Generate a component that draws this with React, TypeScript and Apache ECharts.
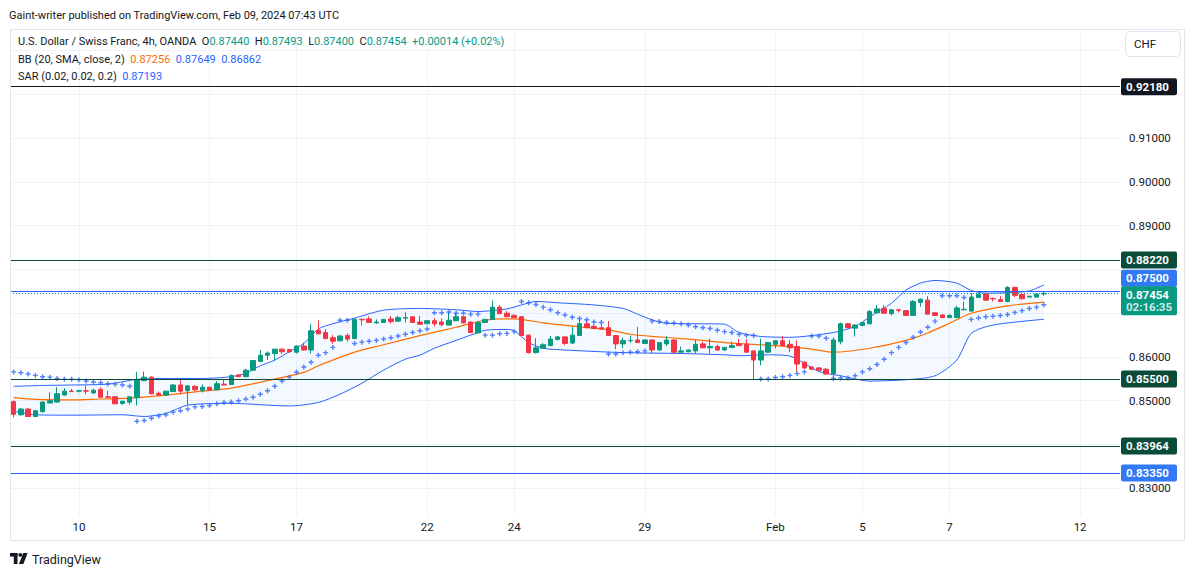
import React, { useEffect, useRef } from 'react';
import * as echarts from 'echarts';

const FONT = 'Roboto, "Liberation Sans", sans-serif';
const UP = '#089981';
const DOWN = '#f23645';
const BLUE = '#2962ff';
const TAG_BLUE = '#3179f5';
const INK = '#131722';
const DARK_GREEN = '#0b4b3a';
const GRID = '#f0f3fa';

// 4h bars, USDCHF (OANDA)
const openP = [
  .8498, .8468, .8481, .8464, .8475, .8495, .8497, .8513, .8522, .8522,
  .8523, .8518, .8526, .8509, .8509, .8494, .8497, .8507, .8546, .8554,
  .8517, .8513, .8521, .8536, .8523, .8533, .8524, .8531, .8525, .8538,
  .8537, .8559, .8555, .8570, .8590, .8604, .8608, .8618, .8617, .8611,
  .8625, .8616, .8661, .8656, .8644, .8637, .8649, .8642, .8686, .8687,
  .8678, .8679, .8687, .8682, .8689, .8692, .8680, .8676, .8683, .8680,
  .8673, .8683, .8692, .8680, .8655, .8679, .8686, .8714, .8700, .8695,
  .8692, .8650, .8610, .8620, .8626, .8640, .8646, .8632, .8649, .8676,
  .8670, .8667, .8667, .8649, .8630, .8637, .8639, .8631, .8639, .8616,
  .8630, .8639, .8611, .8612, .8614, .8630, .8621, .8624, .8616, .8622,
  .8630, .8629, .8614, .8593, .8611, .8629, .8637, .8629, .8624, .8588,
  .8577, .8575, .8572, .8562, .8635, .8676, .8666, .8672, .8676, .8701,
  .8711, .8699, .8708, .8706, .8695, .8725, .8730, .8701, .8696, .8690,
  .8690, .8708, .8705, .8736, .8744, .8734, .8731, .8727, .8759, .8743,
  .8737, .8737, .87440,
];
const highP = [
  .8501, .8484, .8484, .8478, .8498, .8519, .8531, .8529, .8527, .8525,
  .8535, .8528, .8531, .8523, .8510, .8500, .8511, .8566, .8567, .8556,
  .8521, .8523, .8538, .8549, .8536, .8535, .8537, .8532, .8545, .8548,
  .8560, .8560, .8573, .8593, .8616, .8613, .8619, .8619, .8619, .8626,
  .8633, .8675, .8684, .8664, .8650, .8650, .8654, .8689, .8688, .8693,
  .8686, .8687, .8694, .8694, .8702, .8693, .8694, .8684, .8689, .8688,
  .8702, .8701, .8693, .8681, .8682, .8687, .8729, .8719, .8705, .8698,
  .8694, .8651, .8643, .8632, .8648, .8648, .8647, .8669, .8686, .8685,
  .8675, .8674, .8682, .8650, .8644, .8649, .8669, .8640, .8640, .8634,
  .8648, .8640, .8624, .8617, .8639, .8635, .8642, .8628, .8623, .8635,
  .8641, .8641, .8615, .8642, .8634, .8638, .8648, .8639, .8638, .8591,
  .8579, .8577, .8575, .8645, .8679, .8678, .8675, .8680, .8708, .8719,
  .8719, .8709, .8708, .8707, .8730, .8734, .8739, .8702, .8698, .8698,
  .8717, .8727, .8746, .8747, .8747, .8736, .8739, .8762, .8761, .8746,
  .8740, .8745, .87493,
];
const lowP = [
  .8462, .8466, .8463, .8463, .8473, .8494, .8496, .8512, .8520, .8519,
  .8515, .8515, .8507, .8507, .8492, .8491, .8491, .8489, .8545, .8515,
  .8511, .8512, .8520, .8515, .8490, .8522, .8519, .8523, .8524, .8535,
  .8536, .8554, .8554, .8569, .8588, .8593, .8592, .8607, .8610, .8608,
  .8615, .8608, .8652, .8641, .8630, .8636, .8635, .8641, .8672, .8678,
  .8676, .8678, .8676, .8681, .8679, .8678, .8674, .8675, .8670, .8670,
  .8672, .8682, .8677, .8655, .8654, .8678, .8685, .8698, .8691, .8689,
  .8648, .8608, .8608, .8619, .8625, .8638, .8627, .8630, .8648, .8666,
  .8664, .8663, .8648, .8618, .8620, .8633, .8632, .8630, .8608, .8615,
  .8625, .8610, .8611, .8611, .8608, .8620, .8608, .8615, .8615, .8621,
  .8625, .8610, .8549, .8581, .8610, .8620, .8625, .8611, .8566, .8573,
  .8570, .8568, .8559, .8550, .8629, .8666, .8647, .8671, .8675, .8700,
  .8699, .8695, .8702, .8694, .8694, .8715, .8697, .8694, .8689, .8689,
  .8689, .8707, .8704, .8735, .8729, .8727, .8726, .8725, .8737, .8732,
  .8736, .8736, .87400,
];
const closeP = [
  .8469, .8481, .8464, .8477, .8497, .8500, .8516, .8522, .8521, .8523,
  .8522, .8524, .8508, .8508, .8493, .8499, .8509, .8548, .8554, .8516,
  .8513, .8522, .8536, .8522, .8534, .8525, .8531, .8524, .8539, .8536,
  .8558, .8555, .8570, .8592, .8604, .8609, .8618, .8612, .8612, .8625,
  .8616, .8660, .8653, .8642, .8636, .8648, .8641, .8686, .8685, .8679,
  .8680, .8686, .8681, .8690, .8690, .8679, .8675, .8683, .8676, .8674,
  .8684, .8692, .8678, .8656, .8679, .8686, .8714, .8699, .8692, .8690,
  .8649, .8610, .8621, .8628, .8641, .8646, .8631, .8650, .8676, .8667,
  .8665, .8664, .8649, .8630, .8638, .8638, .8633, .8639, .8616, .8633,
  .8639, .8611, .8614, .8616, .8629, .8621, .8624, .8616, .8622, .8626,
  .8626, .8611, .8593, .8614, .8633, .8637, .8626, .8621, .8584, .8575,
  .8572, .8570, .8561, .8639, .8676, .8667, .8673, .8679, .8704, .8710,
  .8700, .8708, .8707, .8695, .8727, .8732, .8698, .8695, .8690, .8695,
  .8712, .8709, .8737, .8743, .8730, .8733, .8727, .8759, .8741, .8733,
  .8739, .8744, .87454,
];

// Parabolic SAR (0.02, 0.02, 0.2), one dot per bar
const sarP = [
  .8566, .8564, .8561, .8558, .8555, .8554, .8551, .8549, .8549, .8548,
  .8545, .8543, .8541, .8539, .8538, .8536, .8533, .8453, .8455, .8460,
  .8465, .8468, .8474, .8477, .8481, .8486, .8487, .8489, .8493, .8496,
  .8497, .8500, .8504, .8508, .8515, .8523, .8533, .8545, .8554, .8565,
  .8577, .8588, .8604, .8610, .8622, .8684, .8684, .8631, .8634, .8636,
  .8638, .8641, .8644, .8648, .8652, .8656, .8660, .8664, .8701, .8701,
  .8703, .8700, .8700, .8698, .8698, .8650, .8650, .8653, .8654, .8658,
  .8727, .8724, .8720, .8714, .8708, .8701, .8696, .8691, .8688, .8685,
  .8680, .8679, .8607, .8607, .8610, .8611, .8612, .8614, .8682, .8681,
  .8679, .8678, .8676, .8673, .8669, .8667, .8665, .8661, .8658, .8656,
  .8652, .8650, .8649, .8550, .8550, .8553, .8555, .8558, .8562, .8566,
  .8648, .8648, .8643, .8551, .8552, .8552, .8557, .8566, .8573, .8583,
  .8595, .8610, .8622, .8633, .8645, .8657, .8668, .8682, .8740, .8740,
  .8740, .8736, .8686, .8689, .8692, .8693, .8695, .8697, .8702, .8706,
  .8711, .8714, .87193,
];

// Bollinger Bands (20, SMA, close, 2), read at [bar, value]
const bbUpper = [
  [0, .8533], [4, .8535], [8, .8536], [13, .8538], [17, .8549], [21, .8551], [26, .8551],
  [30, .8555], [32, .8563], [34, .8580], [36, .8593], [38, .8612], [40, .8631], [42, .8664],
  [44, .8676], [47, .8689], [51, .8707], [56, .8711], [61, .8708], [64, .8704], [68, .8710],
  [70, .8719], [72, .8727], [75, .8724], [80, .8719], [84, .8711], [86, .8698], [88, .8685],
  [90, .8677], [95, .8676], [98, .8675], [100, .8656], [103, .8647], [107, .8645], [113, .8656],
  [116, .8670], [118, .8692], [121, .8723], [123, .8753], [125, .8769], [127, .8775], [130, .8769],
  [132, .8752], [134, .8746], [137, .8747], [140, .8751], [142, .87649],
];
const bbMid = [
  [0, .8507], [3, .8503], [8, .8502], [12, .8504], [16, .8506], [21, .8513], [26, .8522],
  [30, .8529], [35, .8546], [40, .8565], [42, .8580], [47, .8611], [51, .8628], [56, .8649],
  [61, .8668], [65, .8684], [68, .8687], [70, .8686], [73, .8678], [78, .8669], [82, .8662],
  [85, .8652], [88, .8647], [93, .8641], [98, .8633], [102, .8629], [106, .8625], [110, .8618],
  [113, .8611], [118, .8620], [123, .8638], [126, .8655], [129, .8677], [132, .8700], [137, .8717],
  [142, .87256],
];
const bbLower = [
  [0, .8476], [3, .8468], [8, .8467], [15, .8468], [18, .8464], [21, .8471], [24, .8490],
  [30, .8494], [38, .8488], [42, .8496], [45, .8515], [48, .8540], [51, .8570], [54, .8595],
  [56, .8604], [58, .8620], [61, .8638], [63, .8650], [65, .8661], [68, .8663], [69, .8660],
  [71, .8633], [73, .8620], [76, .8616], [84, .8610], [92, .8608], [98, .8605], [100, .8603],
  [104, .8605], [107, .8602], [111, .8567], [114, .8557], [118, .8545], [123, .8548], [127, .8557],
  [130, .8593], [132, .8654], [135, .8673], [142, .86862],
];

// time scale: bar slots (incl. empty future slots) and day labels
const N_SLOTS = 153;
const slots = Array.from({ length: N_SLOTS }, (_, i) => String(i));
const tickIdx = [9, 27, 39, 57, 69, 87, 105, 117, 129, 147];
const tickLabels = ['10', '15', '17', '22', '24', '29', 'Feb', '5', '7', '12'];

// drawn price levels
const levelDark = [0.9218];
const levelGreen = [0.8822, 0.855, 0.83964];
const levelBlue = [0.875, 0.8335];
const countdown = '02:16:35';

const fmt = (v: number) => v.toFixed(5);

const App = function () {
  const chartDom = useRef<HTMLDivElement>(null);

  useEffect(() => {
    const chart = echarts.init(chartDom.current!, null, { renderer: 'svg' });
    const last = closeP.length - 1;
    const chg = closeP[last] - closeP[last - 1];
    const chgPct = (chg / closeP[last - 1]) * 100;

    const tag = (bg: string, text: string) => ({
      show: true,
      position: 'end',
      distance: 1,
      formatter: text,
      color: '#fff',
      opacity: 1,
      backgroundColor: bg,
      padding: [3, 5, 2, 5],
      borderRadius: 2,
      width: 46,
      fontSize: 11.5,
      fontWeight: 'bold',
      fontFamily: FONT,
    });
    const solid = (color: string) => ({ color, width: 1, type: 'solid', opacity: 1 });
    // a carrier line that only holds a tag
    const carrier = { color: 'rgba(255,255,255,0)', width: 1, type: 'solid', opacity: 1 };

    const blueTagAt = levelBlue[0] + 0.003;
    const lastTagAt = closeP[last] - 0.0017;

    const levelLines: any[] = [
      ...levelDark.map((v) => ({ yAxis: v, lineStyle: solid(INK), label: tag(INK, fmt(v)) })),
      ...levelGreen.map((v) => ({ yAxis: v, lineStyle: solid(DARK_GREEN), label: tag(DARK_GREEN, fmt(v)) })),
      { yAxis: levelBlue[0], lineStyle: solid(BLUE), label: { show: false } },
      { yAxis: levelBlue[1], lineStyle: solid(BLUE), label: tag(TAG_BLUE, fmt(levelBlue[1])) },
      { yAxis: closeP[last], lineStyle: { color: UP, width: 1, type: [1, 2], opacity: 1 }, label: { show: false } },
      // tags moved apart so they do not collide, as on the original price scale
      { yAxis: blueTagAt, lineStyle: carrier, label: tag(TAG_BLUE, fmt(levelBlue[0])) },
      {
        yAxis: lastTagAt,
        lineStyle: carrier,
        label: {
          ...tag(UP, ''),
          padding: [2, 5, 2, 5],
          formatter: `{a|${fmt(closeP[last])}}\n{b|${countdown}}`,
          rich: {
            a: { color: '#fff', fontSize: 11.5, fontWeight: 'bold', fontFamily: FONT, lineHeight: 12.5 },
            b: { color: 'rgba(255,255,255,0.82)', fontSize: 11.5, fontWeight: 'bold', fontFamily: FONT, lineHeight: 12.5 },
          },
        },
      },
    ];

    // price-scale labels that sit under a tag are dropped, as the tags cover them
    const tagCentres = [...levelDark, ...levelGreen, levelBlue[1], blueTagAt, lastTagAt];
    const underTag = (v: number) =>
      tagCentres.some((c) => Math.abs(c - v) < (c === lastTagAt ? 0.0048 : 0.0033));

    const isTick = (idx: number) => tickIdx.indexOf(idx) >= 0;
    const logoZ = 12;

    const option: any = {
      animation: false,
      backgroundColor: '#fff',
      grid: { left: 10, right: 75, top: 7, height: 525 },
      xAxis: [
        {
          type: 'category',
          data: slots,
          boundaryGap: true,
          axisLine: { show: false },
          axisTick: { show: false, alignWithLabel: true },
          axisLabel: { show: false },
          splitLine: {
            show: true,
            alignWithLabel: true,
            interval: (idx: number) => isTick(idx),
            lineStyle: { color: GRID, width: 1 },
          },
          z: 0,
        },
        {
          type: 'category',
          data: slots,
          boundaryGap: true,
          position: 'bottom',
          offset: -17,
          axisLine: { show: false },
          axisTick: { show: false },
          splitLine: { show: false },
          axisLabel: {
            interval: (idx: number) => isTick(idx),
            formatter: (v: string) => tickLabels[tickIdx.indexOf(Number(v))] || '',
            color: INK,
            fontSize: 11.5,
            fontFamily: FONT,
            margin: 6,
          },
          z: 5,
        },
      ],
      yAxis: {
        type: 'value',
        position: 'right',
        min: 0.82,
        max: 0.94,
        interval: 0.01,
        axisLine: { show: false },
        axisTick: { show: false },
        splitLine: { show: true, showMinLine: false, showMaxLine: false, lineStyle: { color: GRID, width: 1 } },
        axisLabel: {
          margin: 9,
          color: INK,
          fontSize: 11.5,
          fontFamily: FONT,
          formatter: (v: number) => (v > 0.925 || v < 0.825 || underTag(v) ? '' : v.toFixed(5)),
        },
      },
      series: [
        {
          name: 'BB fill',
          type: 'custom',
          silent: true,
          z: 1,
          data: [[0, bbUpper[0][1]]],
          renderItem: (_params: any, api: any) => {
            const top = bbUpper.map(([i, v]) => api.coord([i, v]));
            const bottom = bbLower.slice().reverse().map(([i, v]) => api.coord([i, v]));
            return {
              type: 'polygon',
              shape: { points: top.concat(bottom) },
              style: { fill: 'rgba(33,150,243,0.055)' },
            };
          },
        },
        {
          name: 'BB upper',
          type: 'line',
          data: bbUpper,
          smooth: 0.25,
          showSymbol: false,
          silent: true,
          lineStyle: { color: BLUE, width: 1 },
          z: 2,
        },
        {
          name: 'BB lower',
          type: 'line',
          data: bbLower,
          smooth: 0.25,
          showSymbol: false,
          silent: true,
          lineStyle: { color: BLUE, width: 1 },
          z: 2,
        },
        {
          name: 'BB basis',
          type: 'line',
          data: bbMid,
          smooth: 0.25,
          showSymbol: false,
          silent: true,
          lineStyle: { color: '#ff6d00', width: 1.2 },
          z: 2,
        },
        {
          name: 'USDCHF',
          type: 'candlestick',
          barWidth: 5,
          data: openP.map((o, i) => [o, closeP[i], lowP[i], highP[i]]),
          itemStyle: {
            color: UP,
            color0: DOWN,
            borderColor: UP,
            borderColor0: DOWN,
            borderWidth: 1,
          },
          z: 3,
          markLine: {
            silent: true,
            symbol: ['none', 'none'],
            precision: 5,
            animation: false,
            data: levelLines,
          },
        },
        {
          name: 'SAR',
          type: 'scatter',
          data: sarP,
          symbol: 'path://M1.8 0H3.2V5H1.8ZM0 1.8H5V3.2H0Z',
          symbolSize: 5,
          itemStyle: { color: BLUE },
          silent: true,
          z: 4,
        },
      ],
      graphic: [
        { type: 'rect', shape: { x: 0, y: 0, width: 1195, height: 28.5 }, style: { fill: '#fff' }, z: 10, silent: true },
        { type: 'rect', shape: { x: 0, y: 515.5, width: 1195, height: 62 }, style: { fill: '#fff' }, z: 1, silent: true },
        {
          type: 'rect',
          shape: { x: 10.5, y: 29.5, width: 1174, height: 511 },
          style: { fill: 'none', stroke: '#e0e3eb', lineWidth: 1 },
          z: 11,
          silent: true,
        },
        {
          type: 'text',
          x: 9,
          y: 15,
          z: 12,
          style: {
            text: 'Gaint-writer published on TradingView.com, Feb 09, 2024 07:43 UTC',
            fill: INK,
            fontSize: 11,
            fontFamily: FONT,
            verticalAlign: 'middle',
          },
        },
        {
          type: 'text',
          x: 18,
          y: 41,
          z: 12,
          style: {
            text:
              `{t|U.S. Dollar / Swiss Franc, 4h, OANDA}  {t|O}{g|${fmt(openP[last])}}  {t|H}{g|${fmt(highP[last])}}  ` +
              `{t|L}{g|${fmt(lowP[last])}}  {t|C}{g|${fmt(closeP[last])}}  {g|+${fmt(chg)} (+${chgPct.toFixed(2)}%)}`,
            verticalAlign: 'middle',
            fontSize: 11,
            fontFamily: FONT,
            rich: {
              t: { fill: INK, fontSize: 11, fontFamily: FONT },
              g: { fill: UP, fontSize: 11, fontFamily: FONT },
            },
          },
        },
        {
          type: 'text',
          x: 18,
          y: 59,
          z: 12,
          style: {
            text: `{t|BB (20, SMA, close, 2)}  {o|${fmt(bbMid[bbMid.length - 1][1])}}  {b|${fmt(bbUpper[bbUpper.length - 1][1])}}  {b|${fmt(bbLower[bbLower.length - 1][1])}}`,
            verticalAlign: 'middle',
            fontSize: 11,
            fontFamily: FONT,
            rich: {
              t: { fill: INK, fontSize: 11, fontFamily: FONT },
              o: { fill: '#ff6d00', fontSize: 11, fontFamily: FONT },
              b: { fill: BLUE, fontSize: 11, fontFamily: FONT },
            },
          },
        },
        {
          type: 'text',
          x: 18,
          y: 76,
          z: 12,
          style: {
            text: `{t|SAR (0.02, 0.02, 0.2)}  {b|${fmt(sarP[last])}}`,
            verticalAlign: 'middle',
            fontSize: 11,
            fontFamily: FONT,
            rich: {
              t: { fill: INK, fontSize: 11, fontFamily: FONT },
              b: { fill: BLUE, fontSize: 11, fontFamily: FONT },
            },
          },
        },
        {
          type: 'rect',
          shape: { x: 1125.5, y: 31.5, width: 55, height: 25, r: 4 },
          style: { fill: '#fff', stroke: '#e0e3eb', lineWidth: 1 },
          z: 12,
        },
        {
          type: 'text',
          x: 1134,
          y: 44,
          z: 13,
          style: { text: 'CHF', fill: INK, fontSize: 11.5, fontFamily: FONT, verticalAlign: 'middle' },
        },
        // TradingView mark
        { type: 'rect', z: logoZ, shape: { x: 10, y: 553, width: 7.5, height: 3.6 }, style: { fill: INK } },
        { type: 'rect', z: logoZ, shape: { x: 13.8, y: 553, width: 3.7, height: 11 }, style: { fill: INK } },
        { type: 'circle', z: logoZ, shape: { cx: 20.3, cy: 554.9, r: 1.9 }, style: { fill: INK } },
        {
          type: 'polygon',
          z: logoZ,
          shape: { points: [[23.2, 553], [27.6, 553], [23.4, 564], [19, 564]] },
          style: { fill: INK },
        },
        {
          type: 'text',
          x: 32,
          y: 559,
          z: 12,
          style: { text: 'TradingView', fill: INK, fontSize: 12.5, fontFamily: FONT, verticalAlign: 'middle' },
        },
      ],
    };

    chart.setOption(option);
    return () => {
      chart.dispose();
    };
  }, []);

  return (
    <div
      ref={chartDom}
      style={{ position: 'absolute', left: 0, top: 0, width: 1195, height: 577 }}
    />
  );
};

export default App;
